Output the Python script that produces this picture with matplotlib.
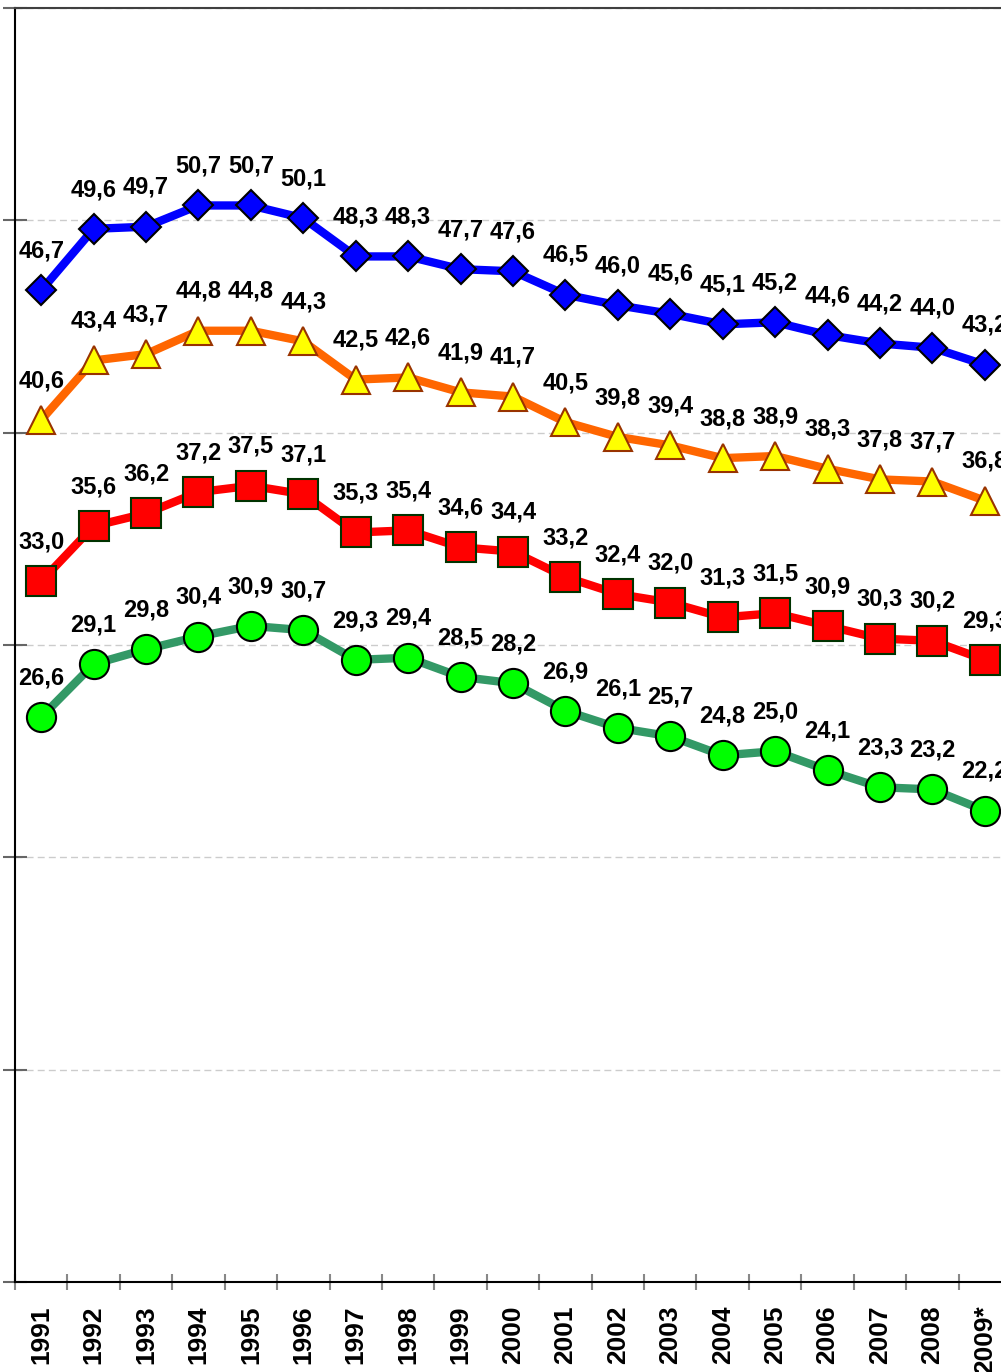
import numpy as np
import matplotlib.pyplot as plt

plt.rcParams['font.family'] = ['Liberation Sans', 'DejaVu Sans']

years = ['1991', '1992', '1993', '1994', '1995', '1996', '1997', '1998', '1999', '2000',
         '2001', '2002', '2003', '2004', '2005', '2006', '2007', '2008', '2009*']

blue = [46.7, 49.6, 49.7, 50.7, 50.7, 50.1, 48.3, 48.3, 47.7, 47.6,
        46.5, 46.0, 45.6, 45.1, 45.2, 44.6, 44.2, 44.0, 43.2]
orange = [40.6, 43.4, 43.7, 44.8, 44.8, 44.3, 42.5, 42.6, 41.9, 41.7,
          40.5, 39.8, 39.4, 38.8, 38.9, 38.3, 37.8, 37.7, 36.8]
red = [33.0, 35.6, 36.2, 37.2, 37.5, 37.1, 35.3, 35.4, 34.6, 34.4,
       33.2, 32.4, 32.0, 31.3, 31.5, 30.9, 30.3, 30.2, 29.3]
green = [26.6, 29.1, 29.8, 30.4, 30.9, 30.7, 29.3, 29.4, 28.5, 28.2,
         26.9, 26.1, 25.7, 24.8, 25.0, 24.1, 23.3, 23.2, 22.2]

fig = plt.figure(figsize=(10.01, 13.72), dpi=100)
W, H = 1001, 1372
# axes runs past the right edge like the original picture
ax = fig.add_axes([15 / W, 90 / H, 996 / W, 1274 / H])

x = np.arange(len(years))

series = [
    (blue, '#0000FF', 'D', 14.8, '#0000FF', '#000000'),
    (orange, '#FF6600', '^', 20, '#FFFF00', '#993300'),
    (red, '#FF0000', 's', 21, '#FF0000', '#003300'),
    (green, '#339966', 'o', 21, '#00FF00', '#000000'),
]

for vals, lc, mk, ms, fc, ec in series:
    ax.plot(x, vals, color=lc, lw=6, marker=mk, markersize=ms,
            markerfacecolor=fc, markeredgecolor=ec, markeredgewidth=1.5,
            zorder=3, clip_on=False)
    for xi, v in zip(x, vals):
        ax.annotate(f'{v:.1f}'.replace('.', ','), (xi, v), xytext=(0, 20),
                    textcoords='offset points', ha='center', va='bottom',
                    fontsize=17, fontweight='bold', zorder=4)

ax.set_xlim(-0.5, len(years) - 0.5)
ax.set_ylim(0, 60)

ax.set_yticks(np.arange(0, 61, 10))
ax.set_yticklabels([])
ax.yaxis.grid(True, color='#cccccc', linestyle=(0, (5, 3)), lw=1)
ax.tick_params(axis='y', direction='inout', length=17, width=1.5, color='#666666')

ax.set_xticks(x)
ax.set_xticklabels(years, rotation=90, fontsize=19, fontweight='bold')
ax.set_xticks(np.arange(-0.5, len(years), 1), minor=True)
ax.tick_params(axis='x', which='major', length=0, pad=17)
ax.tick_params(axis='x', which='minor', direction='inout', length=12, width=1.5, color='#888888')

ax.spines['right'].set_visible(False)
ax.spines['top'].set_color('#404040')
ax.spines['top'].set_linewidth(1.5)
ax.spines['left'].set_linewidth(1.5)
ax.spines['bottom'].set_linewidth(1.5)

fig.savefig('out.png', dpi=100)
